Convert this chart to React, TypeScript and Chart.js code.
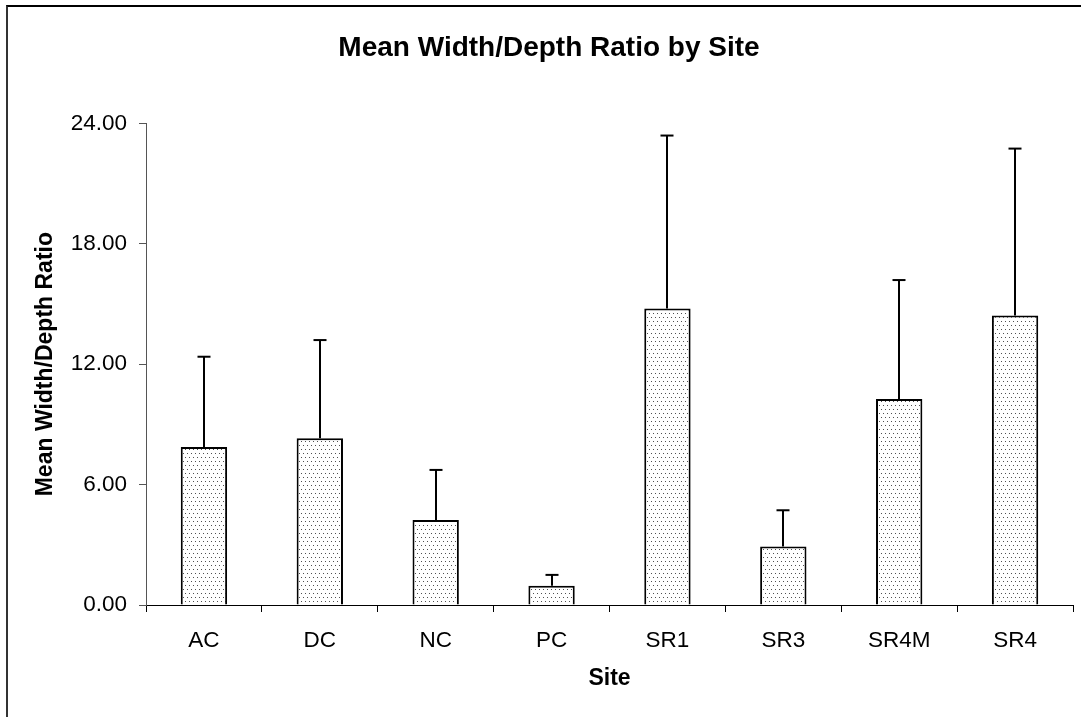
import React, { useEffect, useRef } from "react";
import { Chart, registerables } from "chart.js";

Chart.register(...registerables);

const sites = ["AC", "DC", "NC", "PC", "SR1", "SR3", "SR4M", "SR4"];
const meanRatio = [7.87, 8.31, 4.24, 0.96, 14.77, 2.91, 10.26, 14.42];
const sdRatio = [4.5, 4.89, 2.49, 0.54, 8.62, 1.81, 5.93, 8.32];
const yMin = 0;
const yMax = 24;
const yStep = 6;

const FONT = '"Liberation Sans", Arial, Helvetica, sans-serif';

function makeDotPattern(): CanvasPattern | string {
  const tile = document.createElement("canvas");
  tile.width = 4;
  tile.height = 8;
  const c = tile.getContext("2d");
  if (!c) return "#ececec";
  c.fillStyle = "#ffffff";
  c.fillRect(0, 0, 4, 8);
  c.fillStyle = "#505050";
  c.fillRect(1, 1, 1, 1);
  c.fillRect(3, 5, 1, 1);
  const main = document.createElement("canvas").getContext("2d");
  const p = main ? main.createPattern(tile, "repeat") : null;
  return p || "#ececec";
}

const errorBarPlugin = {
  id: "errorBars",
  afterDatasetsDraw(chart: any) {
    const ctx = chart.ctx;
    const yScale = chart.scales.y;
    const meta = chart.getDatasetMeta(0);
    ctx.save();
    ctx.strokeStyle = "#000";
    ctx.lineWidth = 2;
    meta.data.forEach((el: any, i: number) => {
      const top = yScale.getPixelForValue(meanRatio[i] + sdRatio[i]);
      const x = Math.round(el.x);
      ctx.beginPath();
      ctx.moveTo(x, el.y);
      ctx.lineTo(x, top);
      ctx.stroke();
      ctx.beginPath();
      ctx.moveTo(x - 6.5, top);
      ctx.lineTo(x + 6.5, top);
      ctx.stroke();
    });
    ctx.restore();
  },
};

export default function App() {
  const ref = useRef<HTMLCanvasElement | null>(null);

  useEffect(() => {
    if (!ref.current) return;
    const pattern = makeDotPattern();
    const chart = new Chart(ref.current, {
      type: "bar",
      data: {
        labels: sites,
        datasets: [
          {
            label: "Mean Width/Depth Ratio",
            data: meanRatio,
            backgroundColor: pattern as any,
            borderColor: "#000",
            borderWidth: 2,
            barPercentage: 0.4,
            categoryPercentage: 1,
          },
        ],
      },
      options: {
        responsive: false,
        animation: false,
        devicePixelRatio: 1,
        layout: { padding: { left: 25, right: 8, top: 0, bottom: 0 } },
        plugins: {
          legend: { display: false },
          tooltip: { enabled: false },
          title: {
            display: true,
            text: "Mean Width/Depth Ratio by Site",
            color: "#000",
            font: { family: FONT, size: 28, weight: "bold" },
            padding: { top: 31.4, bottom: 58.3 },
          },
        },
        scales: {
          x: {
            grid: {
              display: true,
              drawOnChartArea: false,
              drawTicks: true,
              tickLength: 7,
              color: "#000",
              offset: true,
            },
            border: { display: true, color: "#000", width: 1 },
            ticks: {
              color: "#000",
              font: { family: FONT, size: 22.5 },
              padding: 15,
              maxRotation: 0,
              autoSkip: false,
            },
            title: {
              display: true,
              text: "Site",
              color: "#000",
              font: { family: FONT, size: 23, weight: "bold" },
              padding: { top: 0, bottom: 24.2 },
            },
            afterFit: (s: any) => {
              s.height = 112;
            },
          },
          y: {
            min: yMin,
            max: yMax,
            ticks: {
              stepSize: yStep,
              color: "#000",
              font: { family: FONT, size: 22.5 },
              padding: 12,
              callback: (v: any) => Number(v).toFixed(2),
            },
            grid: {
              display: true,
              drawOnChartArea: false,
              tickLength: 7,
              color: "#555",
            },
            border: { display: true, color: "#555", width: 1 },
            title: {
              display: true,
              text: "Mean Width/Depth Ratio",
              color: "#000",
              font: { family: FONT, size: 23, weight: "bold" },
              padding: { top: 6.4, bottom: 0 },
            },
            afterFit: (s: any) => {
              s.width = 121;
            },
          },
        },
      },
      plugins: [errorBarPlugin],
    });
    return () => chart.destroy();
  }, []);

  return (
    <>
      <div
        style={{
          position: "fixed",
          left: 6,
          top: 5,
          width: 1075,
          height: 712,
          borderLeft: "2px solid #333",
          borderTop: "2px solid #000",
          boxSizing: "border-box",
        }}
      />
      <canvas
        ref={ref}
        width={1081}
        height={717}
        style={{ position: "fixed", left: 0, top: 0, display: "block" }}
      />
    </>
  );
}
